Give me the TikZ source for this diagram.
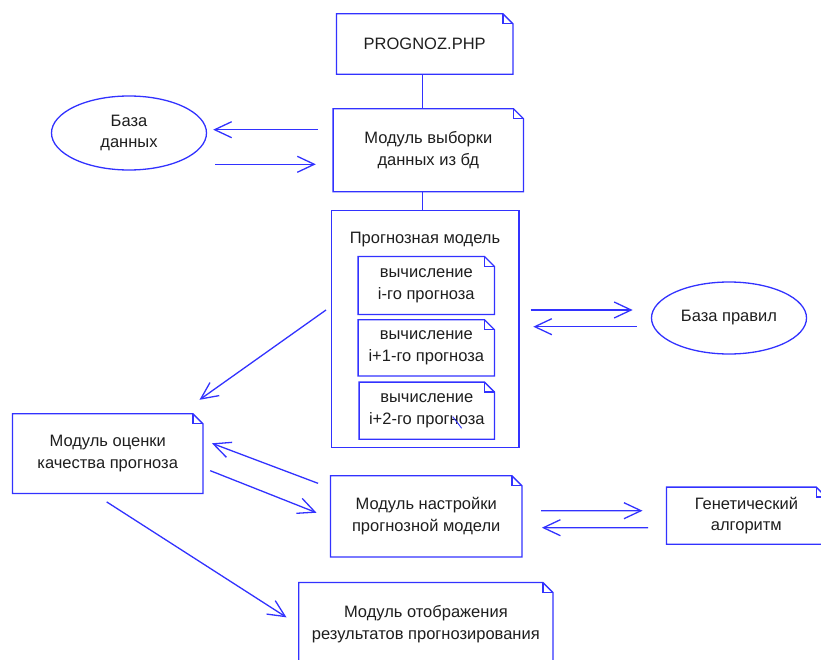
\documentclass[tikz,border=0pt]{standalone}
\usepackage{fontspec}
\setmainfont{Liberation Sans}
\usetikzlibrary{arrows.meta,calc,shapes.geometric}
\definecolor{lineblue}{RGB}{50,50,255}
\definecolor{txt}{RGB}{30,30,30}
\tikzset{
  conn/.style={draw=lineblue, line width=1.3pt},
  arr/.style={conn, -{Straight Barb[length=17pt,width=16pt,line width=1.3pt]}},
  lbl/.style={text=txt, align=center, font=\fontsize{16.5}{21.6}\selectfont},
  box/.style={lbl, rectangle, draw=none, inner sep=0pt},
  ell/.style={lbl, ellipse, draw=lineblue, line width=1.3pt, inner sep=0pt},
}
\newcommand{\dogear}[1]{%
  \draw[conn, line join=miter] (#1.south west) -- (#1.north west) -- ([xshift=-10pt]#1.north east) -- ([yshift=-10pt]#1.north east) -- (#1.south east) -- cycle;
  \draw[conn] ([xshift=-10pt]#1.north east) -- ([xshift=-10pt,yshift=-10pt]#1.north east) -- ([yshift=-10pt]#1.north east);}
\begin{document}
\begin{tikzpicture}[x=1pt,y=-1pt]
\useasboundingbox (0,0) rectangle (821,660);
\clip (0,0) rectangle (821,660);
% nodes
\node[box, minimum width=176pt, minimum height=60pt] (php) at (424.7,44) {PROGNOZ.PHP};
\node[box, minimum width=190pt, minimum height=82.7pt] (vyb) at (428.3,150.3) {Модуль выборки\\данных из бд};
\node[box, draw=lineblue, line width=1.3pt, minimum width=187.3pt, minimum height=237pt] (model) at (425.3,329.2) {};
\node[lbl] (title) at (425,240) {Прогнозная модель};
\node[box, minimum width=136pt, minimum height=57.6pt] (ca) at (426.3,285.5) {вычисление\\i-го прогноза};
\node[box, minimum width=136pt, minimum height=55.7pt] (cb) at (426.3,347.85) {вычисление\\i+1-го прогноза};
\node[box, minimum width=135pt, minimum height=56.7pt] (cc) at (426.8,410.65) {вычисление\\i+2-го прогноза};
\node[ell, minimum width=155pt, minimum height=74pt] (db) at (129,133) {База\\данных};
\node[ell, minimum width=155pt, minimum height=72pt] (rules) at (729,318) {База правил};
\node[box, minimum width=190pt, minimum height=79.3pt] (ocen) at (107.7,453.65) {Модуль оценки\\качества прогноза};
\node[box, minimum width=191pt, minimum height=80.7pt] (nastr) at (426.2,516.35) {Модуль настройки\\прогнозной модели};
\node[box, minimum width=159.3pt, minimum height=56.7pt] (gen) at (746.35,515.65) {Генетический\\алгоритм};
\node[box, minimum width=253.7pt, minimum height=83.3pt] (otob) at (425.85,624.35) {Модуль отображения\\результатов прогнозирования};
\foreach \n in {php,vyb,ca,cb,cc,ocen,nastr,gen,otob} {\dogear{\n}}
% connectors
\draw[conn] ($(php.south)+(-2,0)$) -- ($(vyb.north)+(-5.6,0)$);
\draw[conn] ($(vyb.south)+(-5.6,0)$) -- ($(model.north)+(-2.6,0)$);
\draw[arr] ($(vyb.west)+(-15,-20.6)$) -- ($(db.east)+(6,-3.3)$);
\draw[arr] ($(db.east)+(8.3,31.3)$) -- ($(vyb.west)+(-17.3,14)$);
\draw[arr] ($(model.east)+(11,-19.2)$) -- ($(rules.west)+(-18.2,-8)$);
\draw[arr] ($(rules.west)+(-14.2,8.7)$) -- ($(model.east)+(13.7,-2.5)$);
\draw[arr] ($(model.west)+(-5,-19.2)$) -- ($(ocen.north east)+(-3.4,-14)$);
\draw[arr] ($(nastr.west)+(-12.4,-33)$) -- ($(ocen.east)+(9,-10.35)$);
\draw[arr] ($(ocen.east)+(7.3,17)$) -- ($(nastr.west)+(-14,-3.65)$);
\draw[arr] ($(ocen.south)+(-1,8.4)$) -- ($(otob.west)+(-12.3,-7)$);
\draw[arr] ($(nastr.east)+(19.3,-5.65)$) -- ($(gen.west)+(-24,-4.95)$);
\draw[arr] ($(gen.west)+(-18.4,12)$) -- ($(nastr.east)+(20,11.35)$);
% stray mark inside the third sub-box
\draw[draw=lineblue, line width=0.9pt] ($(cc.center)+(25.9,6)$) -- ($(cc.center)+(34.9,17.6)$);
\end{tikzpicture}
\end{document}
